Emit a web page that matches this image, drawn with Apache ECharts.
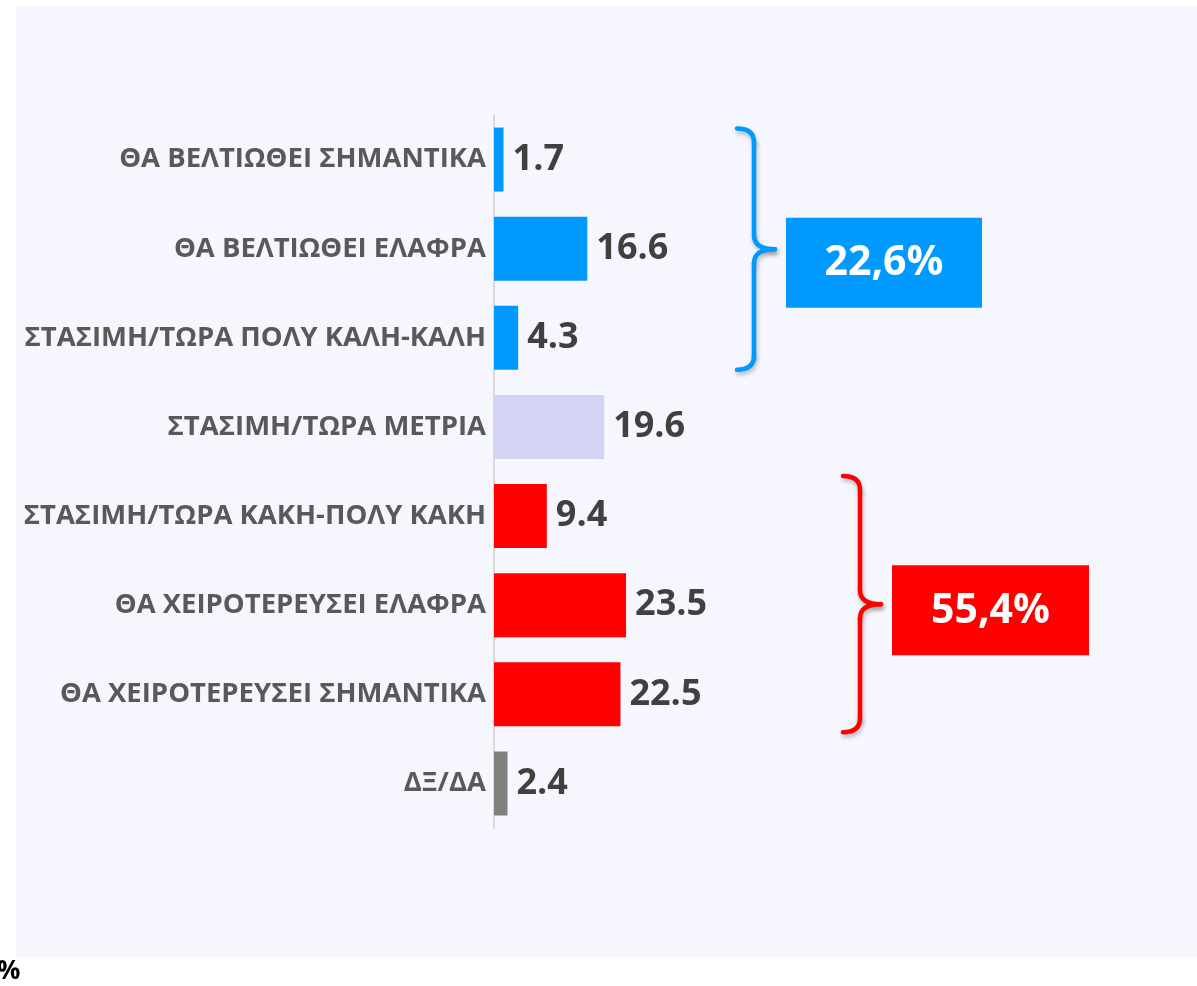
<!DOCTYPE html>
<html>
<head>
<meta charset="utf-8">
<script src="https://cdn.jsdelivr.net/npm/echarts@6/dist/echarts.min.js"></script>
<style>
html,body{margin:0;padding:0;background:#fff;}
#c{width:1197px;height:986px;}
</style>
</head>
<body>
<div id="c"></div>
<script>
const categories = [
  'ΘΑ ΒΕΛΤΙΩΘΕΙ ΣΗΜΑΝΤΙΚΑ',
  'ΘΑ ΒΕΛΤΙΩΘΕΙ ΕΛΑΦΡΑ',
  'ΣΤΑΣΙΜΗ/ΤΩΡΑ ΠΟΛΥ ΚΑΛΗ-ΚΑΛΗ',
  'ΣΤΑΣΙΜΗ/ΤΩΡΑ ΜΕΤΡΙΑ',
  'ΣΤΑΣΙΜΗ/ΤΩΡΑ ΚΑΚΗ-ΠΟΛΥ ΚΑΚΗ',
  'ΘΑ ΧΕΙΡΟΤΕΡΕΥΣΕΙ ΕΛΑΦΡΑ',
  'ΘΑ ΧΕΙΡΟΤΕΡΕΥΣΕΙ ΣΗΜΑΝΤΙΚΑ',
  'ΔΞ/ΔΑ'
];
const values = [1.7, 16.6, 4.3, 19.6, 9.4, 23.5, 22.5, 2.4];
const groupLabels = ['22,6%', '55,4%'];
const groupRanges = [[0, 2], [4, 6]];
const unitLabel = '%';

const barColors = ['#0099FF','#0099FF','#0099FF','#D3D3F3','#FF0000','#FF0000','#FF0000','#808080'];
const groupColors = ['#0099FF', '#FF0000'];
const FONT = '"Open Sans", "DejaVu Sans", sans-serif';

const chart = echarts.init(document.getElementById('c'), null, {renderer: 'canvas'});

const option = {
  backgroundColor: '#ffffff',
  animation: false,
  grid: {left: 494, top: 115, bottom: 158, width: 562, containLabel: false},
  xAxis: {type: 'value', min: 0, max: 100, show: false},
  yAxis: {
    type: 'category', data: categories, inverse: true,
    axisLine: {show: true, lineStyle: {color: '#D9D9D9', width: 2}},
    axisTick: {show: false},
    axisLabel: {color: '#595959', fontSize: 27.5, fontWeight: 'bold', fontFamily: FONT, margin: 8}
  },
  series: [{
    type: 'bar',
    barWidth: 64,
    data: values.map((v, i) => ({value: v, itemStyle: {color: barColors[i]}})),
    label: {
      show: true, position: 'right', distance: 9,
      color: '#404040', fontSize: 36, fontWeight: 'bold', fontFamily: FONT,
      formatter: p => p.value.toFixed(1)
    }
  }]
};
chart.setOption(option);

const braceSpec = [
  {x: 737, padTop: 31, padBot: 32, boxX: 786, boxW: 196, boxH: 90, boxDy: 14},
  {x: 843, padTop: 40, padBot: 38, boxX: 892, boxW: 197, boxH: 90, boxDy: 5}
];

const graphics = [
  {type: 'rect', z: -10, silent: true, shape: {x: 16, y: 6, width: 1181, height: 952}, style: {fill: '#F5F6FE'}},
  {type: 'text', x: -3, y: 959, silent: true, style: {text: unitLabel, fill: '#000', font: 'bold 26px ' + FONT}}
];

function braceElements(xL, top, bot, mid, color) {
  const w = 17, tipW = 38, r = 14;
  const xM = xL + w, xR = xL + tipW;
  const st = {stroke: color, lineWidth: 4.5, fill: null, lineCap: 'round',
    shadowBlur: 4, shadowColor: 'rgba(0,0,0,0.25)', shadowOffsetX: 1, shadowOffsetY: 3};
  const segs = [
    {type: 'bezierCurve', shape: {x1: xL, y1: top, cpx1: xM, cpy1: top, x2: xM, y2: top + r}},
    {type: 'line', shape: {x1: xM, y1: top + r, x2: xM, y2: mid - r}},
    {type: 'bezierCurve', shape: {x1: xM, y1: mid - r, cpx1: xM, cpy1: mid, x2: xR, y2: mid}},
    {type: 'bezierCurve', shape: {x1: xR, y1: mid, cpx1: xM, cpy1: mid, x2: xM, y2: mid + r}},
    {type: 'line', shape: {x1: xM, y1: mid + r, x2: xM, y2: bot - r}},
    {type: 'bezierCurve', shape: {x1: xM, y1: bot - r, cpx1: xM, cpy1: bot, x2: xL, y2: bot}}
  ];
  return segs.map(s => Object.assign(s, {silent: true, style: st}));
}

groupRanges.forEach((rg, gi) => {
  const s = braceSpec[gi];
  const c0 = chart.convertToPixel({yAxisIndex: 0}, rg[0]);
  const c1 = chart.convertToPixel({yAxisIndex: 0}, rg[1]);
  const cm = (c0 + c1) / 2 + s.boxDy;
  const top = c0 - s.padTop, bot = c1 + s.padBot;
  const mid = (top + bot) / 2;
  braceElements(s.x, top, bot, mid, groupColors[gi]).forEach(e => graphics.push(e));
  graphics.push({
    type: 'rect', silent: true,
    shape: {x: s.boxX, y: cm - s.boxH / 2, width: s.boxW, height: s.boxH},
    style: {fill: groupColors[gi]}
  });
  graphics.push({
    type: 'text', silent: true, z: 10,
    x: s.boxX + s.boxW / 2, y: cm + 1,
    style: {text: groupLabels[gi], fill: '#fff', font: 'bold 41px ' + FONT, align: 'center', verticalAlign: 'middle'}
  });
});

chart.setOption({graphic: {elements: graphics}});
</script>
</body>
</html>
